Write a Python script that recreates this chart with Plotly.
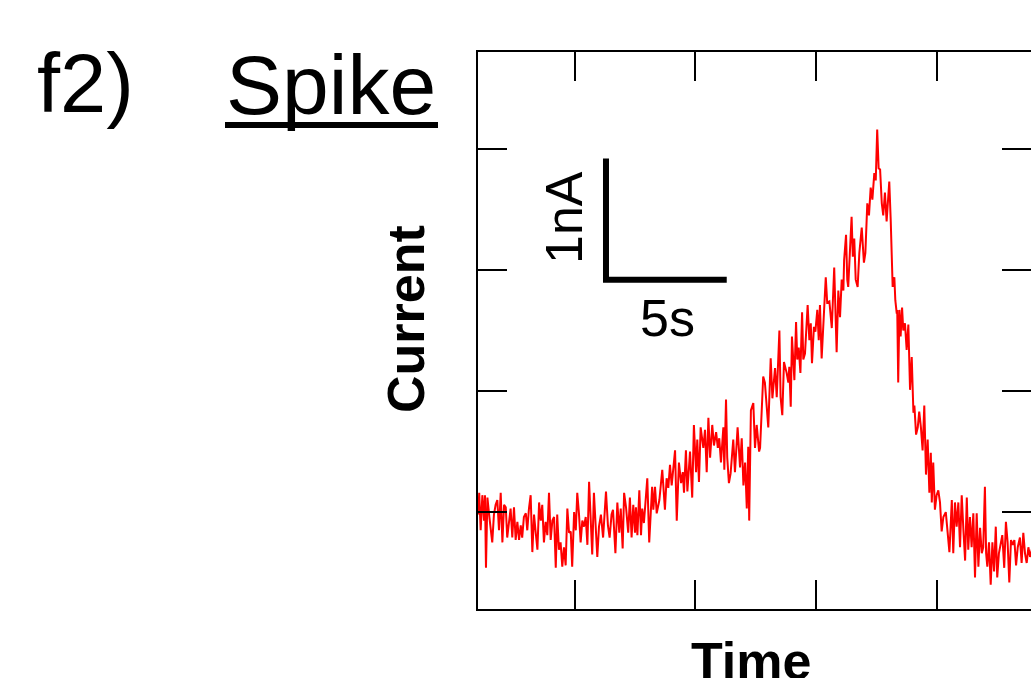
import plotly.graph_objects as go

# ---- recorded trace: time (s) and current (nA) ----
time_s = [
    1.01, 1.05, 1.11, 1.18, 1.25, 1.29, 1.33, 1.39, 1.47, 1.53,
    1.59, 1.66, 1.73, 1.80, 1.87, 1.94, 2.01, 2.08, 2.15, 2.21,
    2.28, 2.35, 2.42, 2.49, 2.56, 2.63, 2.70, 2.77, 2.83, 2.90,
    2.98, 3.04, 3.11, 3.18, 3.25, 3.32, 3.39, 3.46, 3.53, 3.60,
    3.66, 3.73, 3.80, 3.87, 3.94, 4.01, 4.08, 4.15, 4.22, 4.28,
    4.35, 4.42, 4.49, 4.56, 4.63, 4.70, 4.77, 4.84, 4.90, 4.98,
    5.05, 5.11, 5.18, 5.25, 5.32, 5.39, 5.46, 5.53, 5.60, 5.67,
    5.73, 5.80, 5.87, 5.94, 6.01,
    6.09, 6.18, 6.24, 6.30, 6.38, 6.45, 6.53, 6.59, 6.69, 6.77,
    6.85, 6.91, 6.99, 7.05, 7.13, 7.22, 7.29, 7.36, 7.43, 7.50,
    7.54, 7.60, 7.68, 7.75, 7.80, 7.87, 8.01, 8.09, 8.21, 8.26,
    8.33, 8.40, 8.51, 8.63, 8.74, 8.81, 8.88, 8.95, 9.02, 9.16,
    9.23, 9.32, 9.41, 9.48, 9.53, 9.61, 9.67, 9.78, 9.87, 9.94,
    10.03, 10.08, 10.15, 10.22, 10.33, 10.40, 10.47, 10.54, 10.61, 10.70,
    10.77, 10.86, 10.93, 10.99, 11.06, 11.16, 11.20, 11.27, 11.32, 11.39,
    11.46, 11.57, 11.64, 11.75, 11.85, 11.92, 11.99, 12.06, 12.13, 12.19,
    12.23, 12.30, 12.40, 12.47, 12.54, 12.64,
    12.68, 12.81, 12.88, 13.02, 13.12, 13.19, 13.30, 13.37, 13.48, 13.53,
    13.60, 13.67, 13.78, 13.85, 13.89, 13.95, 14.00, 14.10, 14.17, 14.22,
    14.28, 14.35, 14.42, 14.47, 14.54, 14.58, 14.65, 14.72, 14.78, 14.83,
    14.91, 14.97, 15.05, 15.11, 15.16, 15.23, 15.30, 15.40, 15.46, 15.55,
    15.65, 15.75, 15.85, 15.92, 15.99,
    16.06, 16.13, 16.16, 16.24, 16.29, 16.33, 16.40, 16.47, 16.52, 16.58,
    16.64, 16.72, 16.79, 16.89, 16.98, 17.04, 17.12, 17.19, 17.26, 17.33,
    17.41, 17.47, 17.53, 17.59, 17.65, 17.72, 17.78, 17.85, 17.92, 18.03,
    18.09, 18.13, 18.17, 18.24, 18.28, 18.34,
    18.36, 18.40, 18.45, 18.50, 18.56, 18.61, 18.68, 18.75, 18.82, 18.89,
    18.96, 19.03, 19.07, 19.14, 19.21, 19.27, 19.34, 19.41, 19.48, 19.55,
    19.62, 19.69, 19.75, 19.79, 19.85, 19.92, 19.99, 20.06, 20.13, 20.20,
    20.27, 20.37, 20.45, 20.52, 20.57, 20.62, 20.68, 20.75, 20.82, 20.89,
    20.96, 21.03, 21.10, 21.17, 21.24, 21.30, 21.37, 21.44, 21.51, 21.58,
    21.65, 21.72, 21.79, 21.86, 21.92, 21.99, 22.04, 22.09, 22.16, 22.23,
    22.30, 22.37, 22.44, 22.50, 22.57, 22.64, 22.71, 22.79, 22.86, 22.93,
    23.00, 23.07, 23.14, 23.21, 23.28, 23.35, 23.44, 23.51, 23.58, 23.65,
    23.72, 23.79, 23.86, 23.98,
]

current_na = [
    0.98, 1.16, 0.85, 1.14, 0.93, 1.14, 0.54, 1.12, 0.96, 0.87,
    0.75, 0.98, 1.06, 1.10, 0.85, 1.16, 0.75, 1.06, 1.04, 0.79,
    0.93, 1.03, 0.79, 1.04, 0.77, 0.92, 0.77, 0.89, 0.79, 0.96,
    0.99, 0.85, 1.03, 1.14, 0.67, 0.98, 0.83, 0.69, 1.08, 0.93,
    1.06, 0.75, 0.92, 0.81, 1.16, 0.77, 0.93, 0.96, 0.54, 0.98,
    0.69, 0.75, 0.55, 0.71, 0.56, 1.03, 0.83, 0.84, 0.55, 1.00,
    0.85, 1.16, 0.99, 0.75, 0.93, 0.88, 0.96, 0.73, 1.25, 0.96,
    0.65, 1.16, 0.92, 0.63, 0.88,
    0.98, 0.79, 1.02, 1.17, 0.89, 0.79, 0.98, 1.02, 0.66, 1.08,
    0.83, 1.03, 0.70, 1.16, 1.04, 0.83, 1.12, 0.79, 1.06, 0.83,
    1.04, 0.81, 1.18, 0.81, 1.03, 0.91, 1.28, 0.75, 1.21, 1.02,
    1.21, 0.99, 1.10, 1.35, 1.02, 1.28, 1.20, 1.39, 1.22, 1.51,
    0.93, 1.41, 1.24, 1.33, 1.16, 1.51, 1.17, 1.50, 1.12, 1.72,
    1.33, 1.60, 1.25, 1.70, 1.53, 1.68, 1.33, 1.78, 1.45, 1.72,
    1.55, 1.66, 1.53, 1.61, 1.41, 1.70, 1.35, 1.93, 1.45, 1.24,
    1.32, 1.60, 1.33, 1.70, 1.37, 1.61, 1.22, 1.41, 1.03, 1.54,
    0.93, 1.84, 1.90, 1.53, 1.72, 1.50,
    1.53, 2.12, 2.07, 1.70, 2.27, 1.94, 2.19, 1.95, 2.50, 1.95,
    1.80, 2.24, 2.15, 2.07, 2.20, 1.87, 2.45, 2.09, 2.57, 2.26,
    2.36, 2.15, 2.65, 2.26, 2.31, 2.48, 2.71, 2.42, 2.56, 2.23,
    2.53, 2.49, 2.67, 2.42, 2.71, 2.27, 2.55, 2.94, 2.73, 2.74,
    2.52, 3.02, 2.32, 2.83, 2.61,
    2.92, 2.83, 3.08, 3.29, 2.92, 2.86, 3.14, 3.44, 3.11, 3.26,
    2.92, 2.86, 3.14, 3.35, 3.06, 3.14, 3.55, 3.45, 3.68, 3.58,
    3.80, 3.74, 4.16, 3.84, 3.83, 3.55, 3.45, 3.64, 3.40, 3.73,
    3.41, 3.06, 2.86, 2.94, 2.75, 2.64,
    2.67, 2.07, 2.67, 2.45, 2.69, 2.50, 2.56, 2.34, 2.55, 2.01,
    2.28, 1.82, 1.88, 1.64, 1.70, 1.83, 1.70, 1.51, 1.88, 1.31,
    1.60, 1.16, 1.49, 1.08, 1.41, 1.02, 1.14, 1.18, 1.08, 0.84,
    0.96, 1.00, 0.83, 0.67, 0.88, 1.10, 0.66, 1.08, 0.88, 1.08,
    0.71, 1.14, 0.85, 0.60, 1.12, 0.69, 0.96, 0.71, 0.99, 0.46,
    0.99, 0.55, 0.87, 0.66, 0.71, 1.21, 0.66, 0.55, 0.75, 0.40,
    0.75, 0.51, 0.88, 0.46, 0.66, 0.75, 0.81, 0.54, 0.92, 0.75,
    0.42, 0.77, 0.73, 0.77, 0.56, 0.71, 0.79, 0.58, 0.83, 0.66,
    0.58, 0.71, 0.63, 0.73,
]

# axis ticks (unlabelled) and scale-bar sizes
x_ticks_s = [5, 10, 15, 20]
y_ticks_na = [1, 2, 3, 4]
scale_time_s = 5
scale_current_na = 1
scale_origin = (6.30, 2.92)   # corner of the L-shaped scale bar (s, nA)

# ---- page geometry ----
W, H = 1031, 678
M_L, M_R, M_T, M_B = 478, 0, 52, 69
PW, PH = W - M_L - M_R, H - M_T - M_B
FONT = "Liberation Sans, Arial, Helvetica, sans-serif"
Y_RANGE = [0.2, 4.8]


def paper(px, py):
    """Convert page pixel position to paper coordinates."""
    return (px - M_L) / PW, (H - M_B - py) / PH


fig = go.Figure()
fig.add_trace(go.Scatter(
    x=time_s, y=current_na, mode="lines",
    line=dict(color="#ff0000", width=2),
    showlegend=False, hoverinfo="skip",
))
# empty trace so the right-hand tick axis is rendered
fig.add_trace(go.Scatter(x=[None], y=[None], yaxis="y2",
                         showlegend=False, hoverinfo="skip"))

tick_style = dict(
    showgrid=False, zeroline=False, showticklabels=False,
    linecolor="black", linewidth=2,
    ticks="inside", ticklen=29, tickwidth=2, tickcolor="black",
)

fig.update_layout(
    width=W, height=H,
    margin=dict(l=M_L, r=M_R, t=M_T, b=M_B, pad=0),
    paper_bgcolor="white", plot_bgcolor="white",
    xaxis=dict(range=[1.0, 1.0 + PW / 24.15], tickvals=x_ticks_s,
               showline=True, mirror="ticks", **tick_style),
    yaxis=dict(range=Y_RANGE, tickvals=y_ticks_na,
               showline=True, mirror=False, **tick_style),
    # right side: ticks only, the frame continues past the page edge
    yaxis2=dict(range=Y_RANGE, tickvals=y_ticks_na, overlaying="y",
                side="right", showline=False, **tick_style),
    font=dict(family=FONT, color="black"),
)

# scale bar drawn in data units
x0, y0 = scale_origin
fig.add_shape(
    type="path", xref="x", yref="y",
    path=f"M {x0 + scale_time_s},{y0} L {x0},{y0} L {x0},{y0 + scale_current_na}",
    line=dict(color="black", width=6),
)

# underline of the panel title
ux0, uy = paper(225, 125)
ux1, _ = paper(438, 125)
fig.add_shape(type="line", xref="paper", yref="paper",
              x0=ux0, x1=ux1, y0=uy, y1=uy,
              line=dict(color="black", width=6))


def label(text, px, py, size, bold=False, angle=0):
    x, y = paper(px, py)
    fig.add_annotation(
        text=f"<b>{text}</b>" if bold else text,
        x=x, y=y, xref="paper", yref="paper",
        xanchor="center", yanchor="middle",
        showarrow=False, textangle=angle,
        font=dict(family=FONT, size=size, color="black"),
    )


label("f2)", 85, 84, 83)
label("Spike", 331, 85, 84)
label("Current", 406, 319, 52, bold=True, angle=-90)
label("Time", 751, 661, 52, bold=True)
label("1nA", 564, 218, 52, angle=-90)
label("5s", 667, 318, 52)

fig.write_html("out.html")
